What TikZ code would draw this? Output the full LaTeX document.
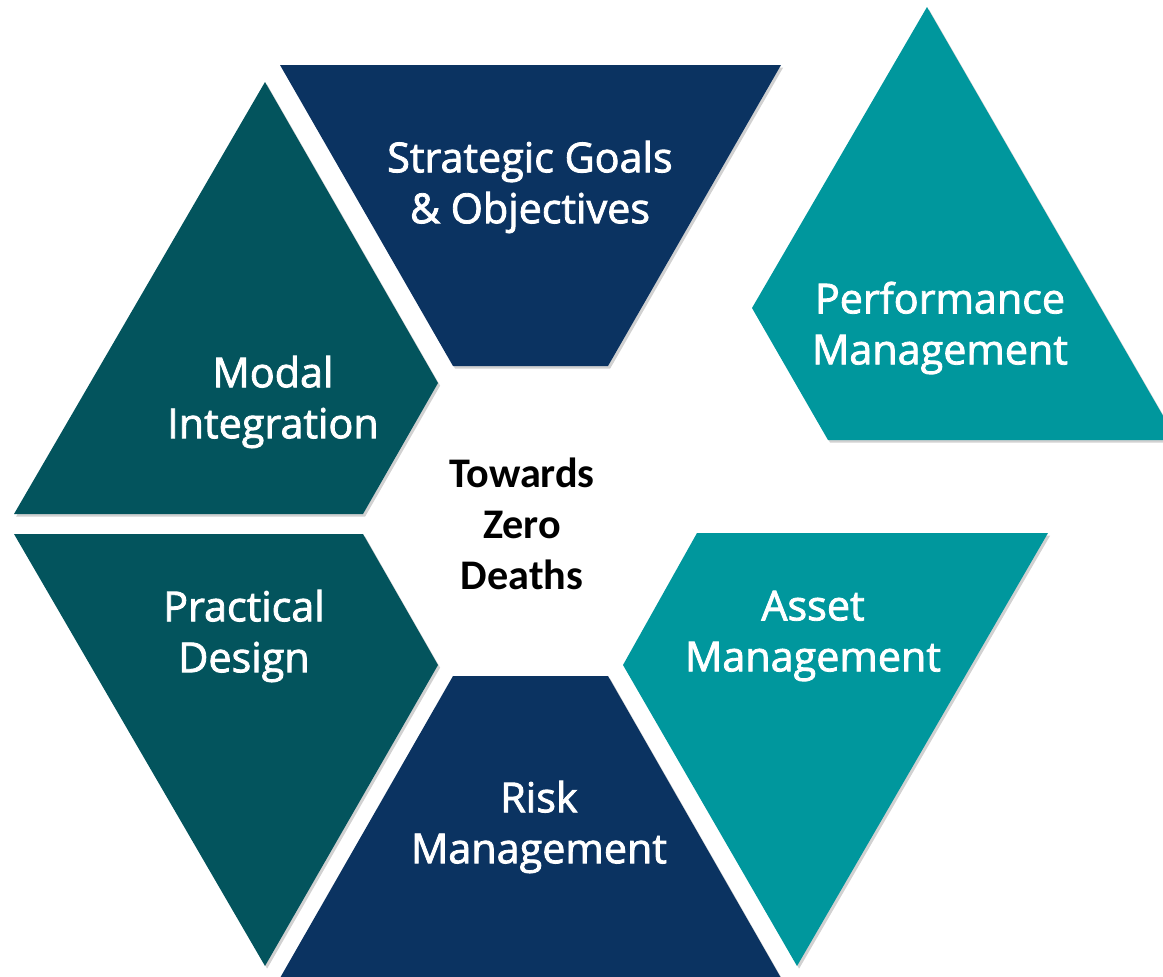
\documentclass[tikz,border=0pt]{standalone}
\usepackage{fontspec}
\setmainfont{Open Sans}[FakeBold=2]
\newfontfamily\tzdfont{Carlito}
\definecolor{TZDnavy}{RGB}{11, 51, 97}
\definecolor{TZDdark}{RGB}{3, 84, 93}
\definecolor{TZDteal}{RGB}{0, 151, 157}
\usetikzlibrary{shadows, positioning}

\begin{document}
\begin{tikzpicture}[x=0.02cm, y=-0.02cm,
	piece/.style={drop shadow={shadow xshift=1.2pt, shadow yshift=-1.5pt, opacity=.3, fill=black!60}},
	pieceText/.style={text=white, align=center, font=\fontsize{23.5}{29}\selectfont},
	]
	
	\clip (0,0) rectangle (1163,977);
	
	% top and bottom (navy)
	\fill[TZDnavy, piece] (280,65) -- (781,65) -- (608,366) -- (453,366) -- cycle;
	\fill[TZDnavy, piece] (453,676) -- (608,676) -- (781,978) -- (280,978) -- cycle;
	
	% left side (dark teal)
	\fill[TZDdark, piece] (265,82) -- (438,383) -- (363,514) -- (14,514) -- cycle;
	\fill[TZDdark, piece] (14,534) -- (363,534) -- (438,665) -- (265,966) -- cycle;
	
	% right side (teal), performance piece pulled out
	\fill[TZDteal, piece] (927,7) -- (1177,440) -- (828,440) -- (752,308) -- cycle;
	\fill[TZDteal, piece] (697,533) -- (1048,533) -- (797,966) -- (623,665) -- cycle;
	
	% labels
	\node[pieceText] (goals) at (530,187) {Strategic Goals\\\& Objectives};
	\node[pieceText] (perf) at (940,328) {Performance\\Management};
	\node[pieceText] (modal) at (273,402) {Modal\\Integration};
	\node[pieceText] (design) at (244,636) {Practical\\Design};
	\node[pieceText] (asset) at (813,636) {Asset\\Management};
	\node[pieceText] (risk) at (539,827) {Risk\\Management};
	
	\node[align=center, font=\tzdfont\fontsize{24}{29}\selectfont\bfseries] (tzd) at (522,524) {Towards\\Zero\\Deaths};
	
\end{tikzpicture}
\end{document}
